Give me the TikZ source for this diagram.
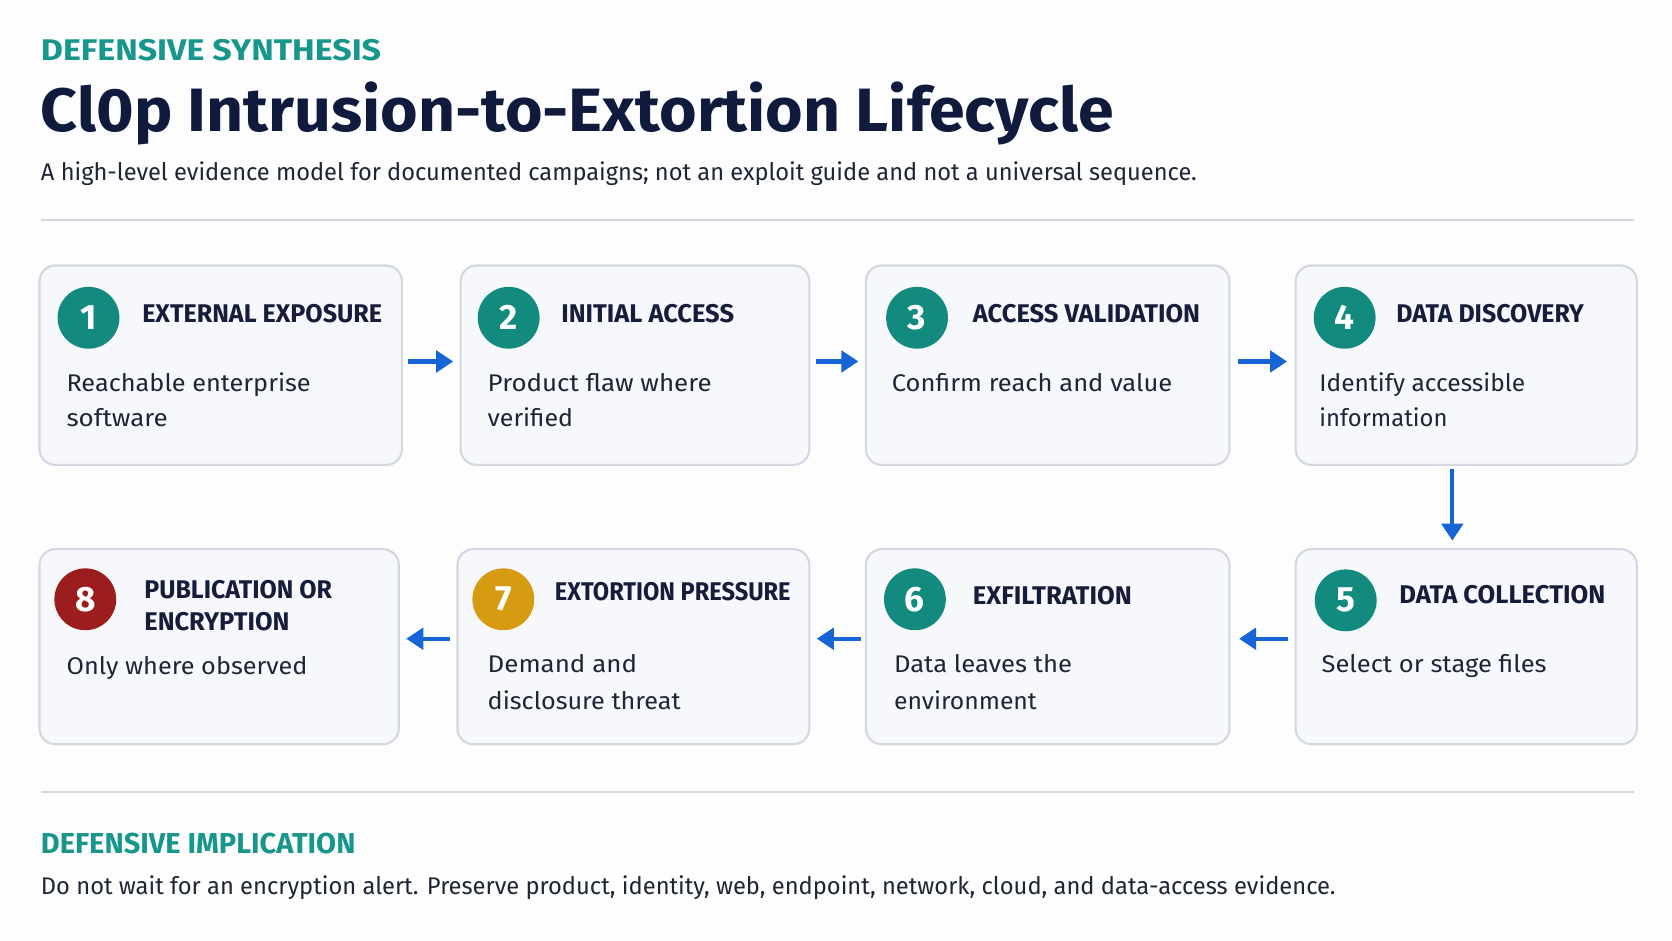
\documentclass[tikz,border=0pt]{standalone}
\usepackage{fontspec}
\setmainfont{Fira Sans}
\usetikzlibrary{arrows.meta,calc}
\definecolor{bgc}{HTML}{FDFDFE}
\definecolor{tealtxt}{HTML}{17978B}
\definecolor{tealc}{HTML}{138A7E}
\definecolor{redc}{HTML}{9B1D1D}
\definecolor{amberc}{HTML}{D69B10}
\definecolor{navy}{HTML}{0F1A3C}
\definecolor{headc}{HTML}{151D3A}
\definecolor{bodyc}{HTML}{1E2535}
\definecolor{rulec}{HTML}{D3D7DF}
\definecolor{boxfill}{HTML}{F7F8FC}
\definecolor{boxline}{HTML}{D3D7E0}
\definecolor{arrowc}{HTML}{1565D6}
\newcommand\fw[2]{\resizebox{#1pt}{\height}{#2}}
\begin{document}
\begin{tikzpicture}[x=0.5pt,y=-0.5pt,
  stepbox/.style={draw=boxline,line width=1pt,fill=boxfill,rounded corners=7.5pt,inner sep=0pt,anchor=north west},
  txt/.style={anchor=base west,inner sep=0pt},
  lbl/.style={txt,text=tealtxt,font=\fontsize{14}{16}\selectfont\bfseries},
  head/.style={txt,text=headc,font=\fontsize{12}{14}\selectfont\bfseries},
  body/.style={txt,text=bodyc,font=\fontsize{11.3}{13}\selectfont},
  num/.style={circle,inner sep=0pt,minimum size=29pt,text=white,font=\fontsize{16.5}{18}\selectfont\bfseries},
  flow/.style={draw=arrowc,line width=2pt,-{Triangle[length=8pt,width=10pt]}}]
\useasboundingbox (0,0) rectangle (1568,882);
\fill[bgc] (0,0) rectangle (1568,882);
% header
\node[lbl] (kicker) at (38,57) {\fw{159.5}{DEFENSIVE SYNTHESIS}};
\node[txt,text=navy,font=\fontsize{28.7}{32}\selectfont\bfseries] (title) at (38,123) {\fw{503}{Cl0p Intrusion-to-Extortion Lifecycle}};
\node[body,text=bodyc] (sub) at (38,169) {\fw{542}{A high-level evidence model for documented campaigns; not an exploit guide and not a universal sequence.}};
\draw[rulec,line width=1pt] (38,206) -- (1532,206);
% row 1 boxes
\node[stepbox,minimum width=170pt,minimum height=93.5pt] (b1) at (36,248) {};
\node[stepbox,minimum width=163.5pt,minimum height=93.5pt] (b2) at (431,248) {};
\node[stepbox,minimum width=170.5pt,minimum height=93.5pt] (b3) at (811,248) {};
\node[stepbox,minimum width=160pt,minimum height=93.5pt] (b4) at (1214,248) {};
% row 2 boxes
\node[stepbox,minimum width=168.5pt,minimum height=91.5pt] (b8) at (36,514) {};
\node[stepbox,minimum width=165pt,minimum height=91.5pt] (b7) at (428,514) {};
\node[stepbox,minimum width=170.5pt,minimum height=91.5pt] (b6) at (811,514) {};
\node[stepbox,minimum width=160pt,minimum height=91.5pt] (b5) at (1214,514) {};
% circles
\node[num,fill=tealc] (c1) at (83,298) {1};
\node[num,fill=tealc] (c2) at (477,298) {2};
\node[num,fill=tealc] (c3) at (860,298) {3};
\node[num,fill=tealc] (c4) at (1261,298) {4};
\node[num,fill=tealc] (c5) at (1262,563) {5};
\node[num,fill=tealc] (c6) at (858,562) {6};
\node[num,fill=amberc] (c7) at (472,562) {7};
\node[num,fill=redc] (c8) at (80,562) {8};
% headings row 1
\node[head] (h1) at (133,302) {\fw{112.5}{EXTERNAL EXPOSURE}};
\node[head] (h2) at (526,302) {\fw{81}{INITIAL ACCESS}};
\node[head] (h3) at (912,302) {\fw{106.5}{ACCESS VALIDATION}};
\node[head] (h4) at (1309,302) {\fw{88}{DATA DISCOVERY}};
% body row 1
\node[body] (t1a) at (62,367) {\fw{114.5}{Reachable enterprise}};
\node[body] (t1b) at (62,400) {\fw{47.5}{software}};
\node[body] (t2a) at (457,367) {\fw{105}{Product flaw where}};
\node[body] (t2b) at (457,400) {\fw{40}{verified}};
\node[body] (t3a) at (836,367) {\fw{131.5}{Confirm reach and value}};
\node[body] (t4a) at (1237,367) {\fw{96.5}{Identify accessible}};
\node[body] (t4b) at (1237,400) {\fw{60}{information}};
% headings row 2
\node[head] (h8a) at (135,561) {\fw{88}{PUBLICATION OR}};
\node[head] (h8b) at (135,591) {\fw{68}{ENCRYPTION}};
\node[head] (h7) at (520,563) {\fw{110.5}{EXTORTION PRESSURE}};
\node[head] (h6) at (912,567) {\fw{74.5}{EXFILTRATION}};
\node[head] (h5) at (1312,566) {\fw{96.5}{DATA COLLECTION}};
% body row 2
\node[body] (t8a) at (62,633) {\fw{113}{Only where observed}};
\node[body] (t7a) at (457,631) {\fw{70}{Demand and}};
\node[body] (t7b) at (457,665) {\fw{90.5}{disclosure threat}};
\node[body] (t6a) at (838,631) {\fw{83.5}{Data leaves the}};
\node[body] (t6b) at (838,665) {\fw{67}{environment}};
\node[body] (t5a) at (1239,631) {\fw{105.5}{Select or stage files}};
% connectors
\draw[flow,shorten <=2.5pt,shorten >=3pt] ([yshift=1.75pt]b1.east) -- ([yshift=1.75pt]b2.west);
\draw[flow,shorten <=2.5pt,shorten >=3pt] ([yshift=1.75pt]b2.east) -- ([yshift=1.75pt]b3.west);
\draw[flow,shorten <=3.5pt,shorten >=3.5pt] ([yshift=1.75pt]b3.east) -- ([yshift=1.75pt]b4.west);
\draw[flow,shorten <=1.5pt,shorten >=3.5pt] ([xshift=-6.5pt]b4.south) -- ([xshift=-6.5pt]b5.north);
\draw[flow,shorten <=3pt,shorten >=4pt] ([yshift=3.75pt]b5.west) -- ([yshift=3.75pt]b6.east);
\draw[flow,shorten <=2pt,shorten >=3pt] ([yshift=3.75pt]b6.west) -- ([yshift=3.75pt]b7.east);
\draw[flow,shorten <=3pt,shorten >=3pt] ([yshift=3.75pt]b7.west) -- ([yshift=3.75pt]b8.east);
% footer
\draw[rulec,line width=1pt] (38,743) -- (1532,743);
\node[lbl,font=\fontsize{13.5}{16}\selectfont\bfseries] (impl) at (38,800) {\fw{147.5}{DEFENSIVE IMPLICATION}};
\node[body] (note) at (38,839) {\fw{607}{Do not wait for an encryption alert. Preserve product, identity, web, endpoint, network, cloud, and data-access evidence.}};
\end{tikzpicture}
\end{document}
